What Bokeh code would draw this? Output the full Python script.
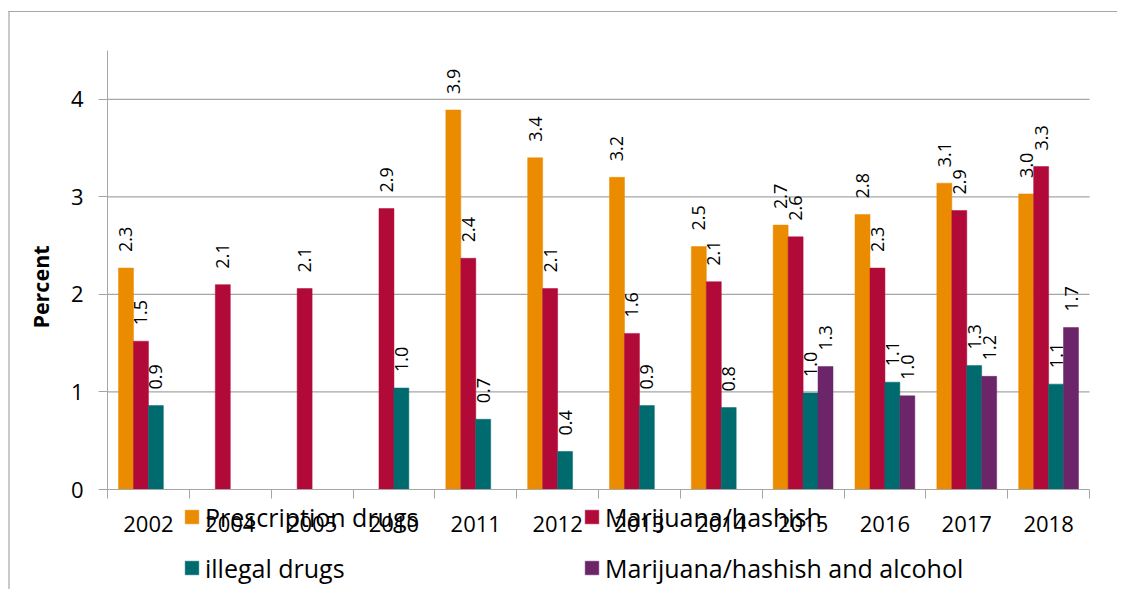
import math
from bokeh.plotting import figure
from bokeh.models import (ColumnDataSource, FixedTicker, Legend, LegendItem,
                          Label, BoxAnnotation, Range1d)
from bokeh.core.properties import value
from bokeh.embed import file_html
from bokeh.resources import INLINE

# ---- data ----
years = ["2002", "2004", "2005", "2010", "2011", "2012",
         "2013", "2014", "2015", "2016", "2017", "2018"]
prescription = [2.27, None, None, None, 3.89, 3.40, 3.20, 2.49, 2.71, 2.82, 3.14, 3.03]
marijuana = [1.52, 2.10, 2.06, 2.88, 2.37, 2.06, 1.60, 2.13, 2.59, 2.27, 2.86, 3.31]
illegal = [0.86, None, None, 1.04, 0.72, 0.39, 0.86, 0.84, 0.99, 1.10, 1.27, 1.08]
mar_alcohol = [None, None, None, None, None, None, None, None, 1.26, 0.96, 1.16, 1.66]
series_names = ["Prescription drugs", "Marijuana/hashish", "illegal drugs",
                "Marijuana/hashish and alcohol"]
y_ticks = [0, 1, 2, 3, 4]
y_max = 4.5
y_title = "Percent"

colors = ["#EB8B00", "#B20A38", "#006B6F", "#6B2568"]
offsets = [-0.274, -0.091, 0.091, 0.274]
bar_w = 0.183
FONT = "Open Sans"
GRID = "#A6A6A6"

# canvas geometry (px): plot area x 107..1089, y 50..489
W, H = 1117, 589
PX_L, PX_R, PY_T, PY_B = 107, 1089, 50, 489
n = len(years)
sx = (PX_R - PX_L) / n
sy = (PY_B - PY_T) / y_max
x_range = Range1d(-PX_L / sx, n + (W - PX_R) / sx)
y_range = Range1d(-(H - PY_B) / sy, y_max + PY_T / sy)

p = figure(width=W, height=H, x_range=x_range, y_range=y_range,
           output_backend="svg", toolbar_location=None, min_border=0)
p.outline_line_color = None
p.xgrid.visible = False
p.ygrid.visible = False

# y axis
p.yaxis.fixed_location = 0
p.yaxis.bounds = (0, y_max)
p.yaxis.ticker = FixedTicker(ticks=y_ticks, minor_ticks=[])
p.yaxis.axis_line_color = GRID
p.yaxis.major_tick_line_color = GRID
p.yaxis.major_tick_out = 9
p.yaxis.major_tick_in = 0
p.yaxis.minor_tick_line_color = None
p.yaxis.major_label_standoff = 15
p.yaxis.major_label_text_font = FONT
p.yaxis.major_label_text_font_size = "22px"
p.yaxis.major_label_text_color = "black"

# horizontal gridlines across the plot area
gy = [t for t in y_ticks if t > 0]
p.segment(x0=[0] * len(gy), x1=[n] * len(gy), y0=gy, y1=gy,
          line_color=GRID, line_width=1.3, level="underlay")

# x axis: labels at category centres, ticks at boundaries
centers = [i + 0.5 for i in range(n)]
p.xaxis.fixed_location = 0
p.xaxis.bounds = (0, n)
p.xaxis.ticker = FixedTicker(ticks=centers, minor_ticks=list(range(n + 1)))
p.xaxis.major_label_overrides = {c: y for c, y in zip(centers, years)}
p.xaxis.major_tick_line_color = None
p.xaxis.major_tick_out = 0
p.xaxis.major_tick_in = 0
p.xaxis.minor_tick_line_color = GRID
p.xaxis.minor_tick_out = 9
p.xaxis.minor_tick_in = 0
p.xaxis.axis_line_color = GRID
p.xaxis.major_label_standoff = 17
p.xaxis.major_label_text_font = FONT
p.xaxis.major_label_text_font_size = "22px"
p.xaxis.major_label_text_color = "black"

renderers = []
for vals, off, col in zip([prescription, marijuana, illegal, mar_alcohol], offsets, colors):
    xs, tops, labels = [], [], []
    for i, v in enumerate(vals):
        if v is None:
            continue
        xs.append(i + 0.5 + off)
        tops.append(v)
        labels.append(f"{v:.1f}")
    src = ColumnDataSource(dict(x=xs, top=tops, label=labels))
    r = p.vbar(x="x", top="top", width=bar_w, bottom=0, source=src,
               fill_color=col, line_color=col, line_width=0.5)
    p.text(x="x", y="top", text="label", source=src, angle=math.pi / 2,
           text_align="left", text_baseline="middle", y_offset=-16,
           text_font=value(FONT), text_font_size="18px", text_color="black")
    renderers.append(r)

# legend: 2 x 2, overlapping the axis labels like the original
legend_pos = [(183, 54.5), (583, 54.5), (183, 3.5), (583, 3.5)]
for name, r, pos in zip(series_names, renderers, legend_pos):
    leg = Legend(items=[LegendItem(label=name, renderers=[r])], location=pos,
                 orientation="horizontal", padding=0, margin=0, spacing=0,
                 border_line_color=None, background_fill_alpha=0,
                 glyph_width=17, glyph_height=17, label_standoff=5, label_height=36,
                 label_text_font=FONT, label_text_font_size="25px",
                 label_text_color="black")
    p.add_layout(leg)

# y axis title
p.add_layout(Label(x=(39.5 - PX_L) / sx, y=(PY_B - 286.5) / sy, text=y_title,
                   angle=math.pi / 2, text_align="center", text_baseline="middle",
                   text_font=FONT, text_font_style="bold", text_font_size="21.5px",
                   text_color="black"))

# outer chart border (only its left and top edges fall inside the window)
far_right = n + (W + 50 - PX_R) / sx
far_bottom = -(H + 50 - PY_B) / sy
p.add_layout(BoxAnnotation(left=(8 - PX_L) / sx, right=far_right,
                           top=(PY_B - 10.4) / sy, bottom=(PY_B - 11.6) / sy,
                           fill_color=GRID, fill_alpha=1, line_color=None, line_alpha=0))
p.add_layout(BoxAnnotation(left=(7.9 - PX_L) / sx, right=(9.1 - PX_L) / sx,
                           top=(PY_B - 10.4) / sy, bottom=far_bottom,
                           fill_color=GRID, fill_alpha=1, line_color=None, line_alpha=0))

open("out.html", "w").write(file_html(p, INLINE))
